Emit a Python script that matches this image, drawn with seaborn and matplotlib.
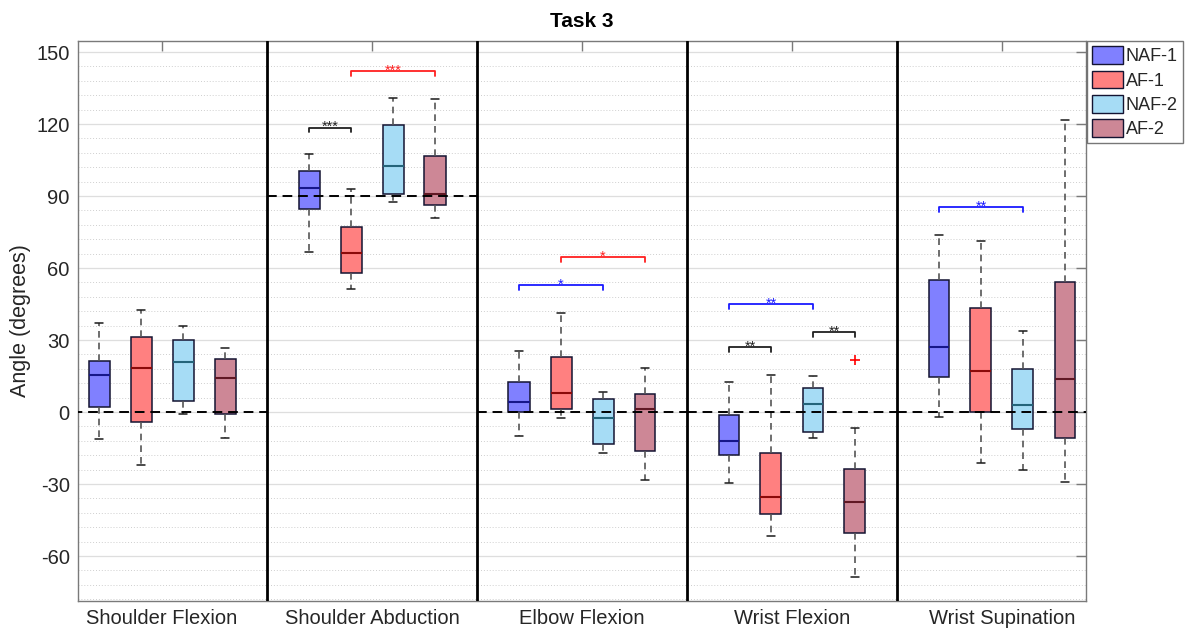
import numpy as np
import pandas as pd
import matplotlib
matplotlib.use("Agg")
import matplotlib.pyplot as plt
from matplotlib.patches import Patch
from matplotlib.ticker import MultipleLocator
import seaborn as sns

# ---- data -------------------------------------------------------------
joints = ["Shoulder Flexion", "Shoulder Abduction", "Elbow Flexion",
          "Wrist Flexion", "Wrist Supination"]
groups = ["NAF-1", "AF-1", "NAF-2", "AF-2"]

# five-number summaries (rows: joints, columns: groups)
whisker_low = [
    [-11.3, -21.9, -1.0, -10.7],
    [66.8, 51.4, 87.6, 80.8],
    [-10.1, -2.4, -17.1, -28.5],
    [-29.7, -51.8, -10.8, -68.8],
    [-2.1, -21.3, -24.2, -29.2],
]
q1 = [
    [2.0, -4.2, 4.4, -1.0],
    [84.6, 57.9, 90.7, 86.3],
    [0.0, 1.3, -13.5, -16.4],
    [-17.9, -42.4, -8.5, -50.6],
    [14.4, 0.0, -7.1, -11.0],
]
median = [
    [15.3, 18.2, 21.0, 14.3],
    [93.5, 66.3, 102.5, 90.8],
    [4.3, 7.8, -2.4, 1.4],
    [-11.9, -35.4, 3.3, -37.6],
    [27.1, 17.2, 2.9, 13.6],
]
q3 = [
    [21.1, 31.1, 30.1, 22.2],
    [100.3, 77.0, 119.6, 106.8],
    [12.4, 22.8, 5.6, 7.5],
    [-1.3, -16.9, 10.1, -23.6],
    [54.9, 43.5, 18.0, 54.3],
]
whisker_high = [
    [37.1, 42.4, 35.7, 26.5],
    [107.4, 92.9, 131.0, 130.4],
    [25.5, 41.4, 8.5, 18.5],
    [12.5, 15.4, 15.1, -6.5],
    [73.6, 71.1, 33.8, 121.7],
]

# outliers
outlier_joint = ["Wrist Flexion"]
outlier_group = ["AF-2"]
outlier_value = [21.5]

# reference angle for each joint
ref_level = [0, 90, 0, 0, 0]

# significance brackets
sig_joint = ["Shoulder Abduction", "Shoulder Abduction", "Elbow Flexion",
             "Elbow Flexion", "Wrist Flexion", "Wrist Flexion",
             "Wrist Flexion", "Wrist Supination"]
sig_from = ["NAF-1", "AF-1", "NAF-1", "AF-1", "NAF-1", "NAF-1", "NAF-2", "NAF-1"]
sig_to = ["AF-1", "AF-2", "NAF-2", "AF-2", "AF-1", "NAF-2", "AF-2", "NAF-2"]
sig_y = [118.5, 142.2, 52.9, 64.6, 27.1, 44.9, 33.2, 85.4]
sig_label = ["***", "***", "*", "*", "**", "**", "**", "**"]
sig_color = ["#202020", "#ff2020", "#1a1aff", "#ff2020", "#202020",
             "#1a1aff", "#202020", "#1a1aff"]

# ---- styling ----------------------------------------------------------
palette = {"NAF-1": "#8080ff", "AF-1": "#ff8080",
           "NAF-2": "#a6dcf5", "AF-2": "#cd8796"}
median_colors = ["#16168a", "#8b0a0a", "#24647a", "#601824"]
edge_color = "#141432"
whisker_color = "#555555"

sns.set_theme(style="white")
plt.rcParams["font.family"] = ["Liberation Sans", "DejaVu Sans"]
plt.rcParams["axes.unicode_minus"] = False

# long-form table built from the summaries
rows = []
for j, joint in enumerate(joints):
    for g, grp in enumerate(groups):
        for v in (whisker_low[j][g], q1[j][g], median[j][g],
                  q3[j][g], whisker_high[j][g]):
            rows.append({"joint": joint, "group": grp, "angle": v})
df = pd.DataFrame(rows)
out_df = pd.DataFrame({"joint": outlier_joint, "group": outlier_group,
                       "angle": outlier_value})

fig = plt.figure(figsize=(11.89, 6.37), dpi=100)
ax = fig.add_axes([78 / 1189, 1 - 601 / 637, 1008 / 1189, 560 / 637])

sns.boxplot(
    data=df, x="joint", y="angle", hue="group", order=joints,
    hue_order=groups, palette=palette, saturation=1, width=0.8, gap=0.5,
    linecolor=edge_color, linewidth=1.1, showfliers=False, legend=False,
    capwidths=0.042, ax=ax,
    whiskerprops=dict(linestyle=(0, (4, 3)), color=whisker_color, linewidth=1.2),
    capprops=dict(color="#1a1a1a", linewidth=1.1),
    medianprops=dict(linewidth=1.5),
)
for cont, mc in zip(ax.containers, median_colors):
    for line in cont.medians:
        line.set_color(mc)
    for line in cont.whiskers:
        line.set_color(whisker_color)
        line.set_linestyle((0, (4, 3)))

sns.stripplot(
    data=out_df, x="joint", y="angle", hue="group", order=joints,
    hue_order=groups, dodge=True, jitter=False, marker="+", size=7,
    linewidth=1.2, palette={g: "red" for g in groups}, legend=False, ax=ax,
)

# joint separators and reference lines
n = len(joints)
for xs in np.arange(n - 1) + 0.5:
    ax.axvline(xs, color="black", lw=2.0, zorder=6)
ax.hlines(ref_level, np.arange(n) - 0.5, np.arange(n) + 0.5,
          colors="black", linestyles=(0, (5, 3)), lw=1.4, zorder=7)

# significance brackets
def hue_x(joint, grp):
    return joints.index(joint) + (groups.index(grp) - (len(groups) - 1) / 2) * 0.2

tick_drop = 2.0
for jn, a, b, y, lab, col in zip(sig_joint, sig_from, sig_to, sig_y,
                                 sig_label, sig_color):
    x1, x2 = hue_x(jn, a), hue_x(jn, b)
    ax.plot([x1, x1, x2, x2], [y - tick_drop, y, y, y - tick_drop],
            color=col, lw=1.3, zorder=8)
    ax.text((x1 + x2) / 2, y - 1.5, lab, color=col, ha="center",
            va="baseline", fontsize=10.5, zorder=8)

# axes, ticks and grid
ax.set_xlim(-0.4, n - 0.6)
ax.set_ylim(-78.75, 154.6)
ax.yaxis.set_major_locator(MultipleLocator(30))
ax.yaxis.set_minor_locator(MultipleLocator(6))
ax.set_axisbelow(True)
ax.yaxis.grid(True, which="major", color="#dedede", lw=0.9)
ax.yaxis.grid(True, which="minor", color="#cfcfcf", lw=0.7,
              linestyle=(0, (1, 2)))
ax.xaxis.grid(False)
ax.tick_params(axis="both", which="major", direction="in", length=7.5,
               width=1, top=True, right=True, labelsize=14.5,
               color="#7a7a7a", labelcolor="#262626")
ax.tick_params(axis="y", which="minor", length=0)
ax.tick_params(axis="y", pad=6)
ax.tick_params(axis="x", pad=6)
for sp in ax.spines.values():
    sp.set_color("#7a7a7a")
    sp.set_linewidth(1.0)

ax.set_xlabel("")
ax.set_ylabel("Angle (degrees)", fontsize=15.5, color="#262626", labelpad=4)
ax.set_title("Task 3", fontsize=15, fontweight="bold", color="black", pad=10)

handles = [Patch(facecolor=palette[g], edgecolor=edge_color, lw=1.0, label=g)
           for g in groups]
leg = ax.legend(handles=handles, loc="upper left", bbox_to_anchor=(1.001, 1.0),
                borderaxespad=0, frameon=True, fancybox=False, fontsize=13,
                handlelength=1.7, handleheight=1.15, handletextpad=0.15,
                labelspacing=0.28, borderpad=0.3)
leg.get_frame().set_edgecolor("#555555")
leg.get_frame().set_linewidth(1.0)

fig.savefig("out.png", dpi=100)
